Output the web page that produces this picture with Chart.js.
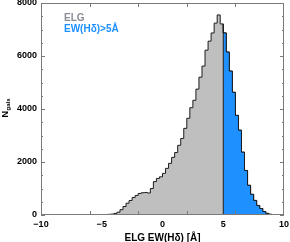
<!DOCTYPE html>
<html><head><meta charset="utf-8">
<script src="https://cdn.jsdelivr.net/npm/chart.js@4/dist/chart.umd.min.js"></script>
<style>html,body{margin:0;padding:0;background:#fff}</style>
</head><body>
<canvas id="c" width="290" height="242"></canvas>
<script>
// ---- data ----
const binStart = -10;
const binWidth = 0.25;
const counts = [
  0,0,0,0, 0,0,1,1, 2,2,3,3, 4,5,5,6,          // -10 .. -6
  7,8,10,12,                                   // -6 .. -5
  14,17,20,25,                                 // -5 .. -4
  35,60,106,200, 320,446,548,662,              // -4 .. -2
  738,813,840,850, 830,1000,1260,1380,         // -2 .. 0
  1440,1570,1760,1950, 2175,2360,2630,2890,    // 0 .. 2
  3270,3650,4050,4330, 4750,5200,5620,6220,    // 2 .. 4
  6560,6870,7240,7550,                         // 4 .. 5
  7210,6870,6150,5430, 4630,3760,3200,2370,    // 5 .. 7
  1680,1120,780,550, 360,245,130,60,           // 7 .. 9
  25,12,5,2                                    // 9 .. 10
];
const cutValue = 5;
const xMax = 10;
const xTickLabels = [-10, -5, 0, 5, 10];
const xMinorTicks = [-6, -2, 2, 6];
const yTickLabels = [0, 2000, 4000, 6000, 8000];
const yMinorTicks = [500,1000,1500,2500,3000,3500,4500,5000,5500,6500,7000,7500];
const legendNames = ['ELG', 'EW(H\u03b4)>5\u00c5'];
const xTitle = 'ELG EW(H\u03b4) [\u00c5]';
const yTitleMain = 'N';
const yTitleSub = 'gals';

// ---- build datasets ----
const binLeft = counts.map((_, i) => binStart + i * binWidth);
const allPts = binLeft.map((x, i) => ({x, y: counts[i]}));
allPts.push({x: xMax, y: 0});
const bluePts = [{x: cutValue, y: 0}];
binLeft.forEach((x, i) => { if (x >= cutValue) bluePts.push({x, y: counts[i]}); });
bluePts.push({x: xMax, y: 0});

const FONT = '"Liberation Sans", Arial, Helvetica, sans-serif';
const GRAY_TEXT = '#8a8f97';
const BLUE = '#1e90ff';
const FRAME = '#7a7a7a';

const framePlugin = {
  id: 'frameTicks',
  afterDatasetsDraw(chart) {
    const {ctx, chartArea: a, scales: {x, y}} = chart;
    ctx.save();
    ctx.strokeStyle = FRAME;
    ctx.lineWidth = 1;
    ctx.beginPath();
    yTickLabels.concat(yMinorTicks).forEach(v => {
      const len = yTickLabels.includes(v) ? 4 : 2;
      const py = Math.round(y.getPixelForValue(v)) + 0.5;
      ctx.moveTo(a.left, py); ctx.lineTo(a.left + len, py);
      ctx.moveTo(a.right, py); ctx.lineTo(a.right - len, py);
    });
    xMinorTicks.forEach(v => {
      const px = Math.round(x.getPixelForValue(v)) + 0.5;
      ctx.moveTo(px, a.bottom); ctx.lineTo(px, a.bottom - 4);
      ctx.moveTo(px, a.top); ctx.lineTo(px, a.top + 4);
    });
    ctx.stroke();
    ctx.strokeRect(Math.round(a.left) + 0.5, Math.round(a.top) + 0.5,
                   Math.round(a.right - a.left) - 1, Math.round(a.bottom - a.top) - 1);
    // legend text
    ctx.font = 'bold 10px ' + FONT;
    ctx.textBaseline = 'middle';
    ctx.textAlign = 'left';
    ctx.fillStyle = GRAY_TEXT;
    ctx.fillText(legendNames[0], a.left + 23, a.top + 15.5);
    ctx.fillStyle = BLUE;
    ctx.fillText(legendNames[1], a.left + 23, a.top + 26.5);
    // y title with subscript
    ctx.translate(7.5, 117.5);
    ctx.rotate(-Math.PI / 2);
    ctx.fillStyle = '#000';
    ctx.textBaseline = 'alphabetic';
    ctx.font = 'bold 9px ' + FONT;
    ctx.fillText(yTitleMain, 0, 0);
    const w = ctx.measureText(yTitleMain).width;
    ctx.font = 'bold 6px ' + FONT;
    ctx.fillText(yTitleSub, w + 0.5, 2);
    ctx.restore();
  }
};

const fmt = v => (v < 0 ? '\u2212' + Math.abs(v) : String(v));

new Chart(document.getElementById('c'), {
  type: 'line',
  data: {
    datasets: [
      {
        data: bluePts, stepped: 'after', fill: 'origin',
        backgroundColor: BLUE, borderColor: '#1c1c1c', borderWidth: 1,
        pointRadius: 0, order: 0
      },
      {
        data: allPts, stepped: 'after', fill: 'origin',
        backgroundColor: '#bfbfbf', borderColor: '#1c1c1c', borderWidth: 1,
        pointRadius: 0, order: 1
      }
    ]
  },
  options: {
    responsive: false,
    animation: false,
    devicePixelRatio: 1,
    layout: {padding: {left: 0, top: 3, right: 6, bottom: 0}},
    plugins: {legend: {display: false}, tooltip: {enabled: false}},
    scales: {
      x: {
        type: 'linear', min: -10, max: 10,
        afterBuildTicks: s => { s.ticks = xTickLabels.map(v => ({value: v})); },
        afterFit: s => { s.height = 27; s.paddingLeft = 0; s.paddingRight = 0; },
        grid: {display: false, drawTicks: false},
        border: {display: false},
        ticks: {
          font: {family: FONT, size: 9, weight: 'bold'}, color: '#000',
          padding: 4, maxRotation: 0, autoSkip: false, callback: v => fmt(v)
        },
        title: {
          display: true, text: xTitle, color: '#000',
          font: {family: FONT, size: 10, weight: 'bold', lineHeight: 0.8},
          padding: 0
        }
      },
      y: {
        min: 0, max: 8000,
        afterBuildTicks: s => { s.ticks = yTickLabels.map(v => ({value: v})); },
        afterFit: s => { s.width = 41; s.paddingTop = 0; s.paddingBottom = 0; },
        grid: {display: false, drawTicks: false},
        border: {display: false},
        ticks: {
          font: {family: FONT, size: 9, weight: 'bold'}, color: '#000',
          padding: 4, autoSkip: false, callback: v => String(v)
        }
      }
    }
  },
  plugins: [framePlugin]
});
</script>
</body></html>
